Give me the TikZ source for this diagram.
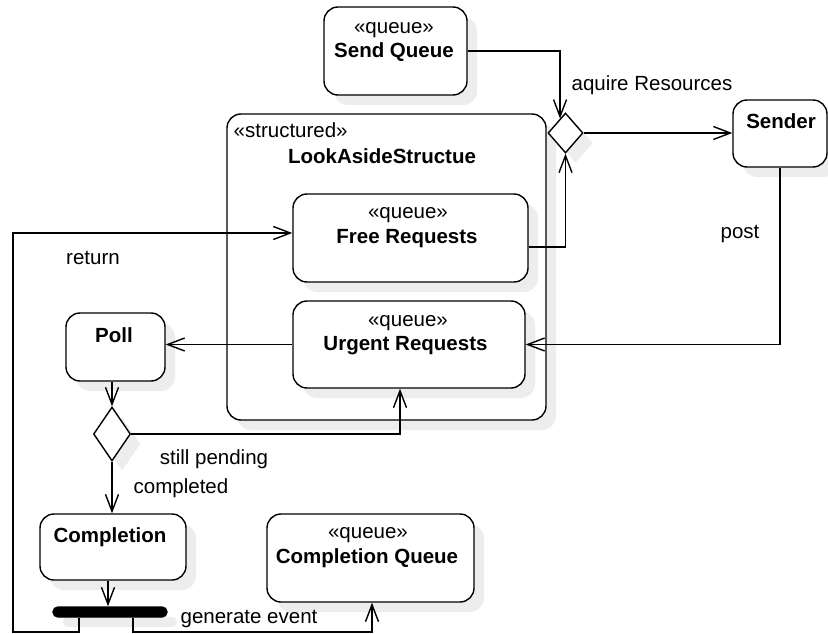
\documentclass[tikz,border=0pt]{standalone}
\usepackage{fontspec}
\setmainfont{Liberation Sans}
\usetikzlibrary{arrows.meta,shapes.geometric,shadows,calc}
\begin{document}
\begin{tikzpicture}[x=1pt,y=-1pt,line width=1.4pt,
  font=\fontsize{20.5}{24}\selectfont,
  shade/.style={drop shadow={shadow xshift=10pt,shadow yshift=-10pt,fill=black!7,opacity=1}},
  act/.style={draw,fill=white,rounded corners=14pt,inner sep=0pt,shade},
  decision/.style={draw,fill=white,diamond,inner sep=0pt,shade},
  lbl/.style={inner sep=0pt,text height=15pt,text depth=4pt},
  arr/.style={-{Straight Barb[length=17pt,width=13pt]}}]
\useasboundingbox (0,0) rectangle (828,634);

% structured region and its queues
\node[act,minimum width=319pt,minimum height=306pt] (look) at (386.5,267) {};
\node[lbl,anchor=west] (lookst) at (233,132) {«structured»};
\node[lbl] (lookname) at (382,158) {\textbf{LookAsideStructue}};

\node[act,minimum width=235pt,minimum height=88pt] (free) at (410.5,238) {};
\node[lbl] (freest) at (408,213) {«queue»};
\node[lbl] (freename) at (407,238) {\textbf{Free Requests}};

\node[act,minimum width=232pt,minimum height=87pt] (urgent) at (409,344.5) {};
\node[lbl] (urgst) at (408,321) {«queue»};
\node[lbl] (urgname) at (405.5,345) {\textbf{Urgent Requests}};

% other activities
\node[act,minimum width=143pt,minimum height=88pt] (sq) at (395.5,51) {};
\node[lbl] (sqst) at (394,28) {«queue»};
\node[lbl] (sqname) at (394,52) {\textbf{Send Queue}};

\node[act,minimum width=94pt,minimum height=67pt] (sender) at (780,133.5) {};
\node[lbl] (sendername) at (781,123) {\textbf{Sender}};

\node[act,minimum width=99pt,minimum height=68pt] (poll) at (115.5,347) {};
\node[lbl] (pollname) at (114,337) {\textbf{Poll}};

\node[act,minimum width=146pt,minimum height=66pt] (comp) at (113,547) {};
\node[lbl] (compname) at (110,537) {\textbf{Completion}};

\node[act,minimum width=207pt,minimum height=88pt] (cq) at (370.5,558) {};
\node[lbl] (cqst) at (368,533) {«queue»};
\node[lbl] (cqname) at (367,558) {\textbf{Completion Queue}};

% control nodes
\node[decision,minimum width=35pt,minimum height=40pt] (merge) at (565.5,133) {};
\node[decision,minimum width=37pt,minimum height=54pt] (dec) at (112,434) {};
\node[draw,fill=black,rounded corners=5pt,minimum width=114pt,minimum height=10pt,inner sep=0pt,shade] (bar) at (110,612) {};

% flows
\draw[arr] (sq.east) -| ($(merge.north)!0.3!(merge.west)$);
\draw[arr] ($(free.east)+(0,9)$) -| (merge.south);
\draw[arr] (merge.east) -- (merge.east -| sender.west);
\draw[arr] (sender.south) |- (urgent.east);
\draw[arr] (urgent.west) -- (urgent.west -| poll.east);
\draw[arr] (dec.north |- poll.south) -- (dec.north);
\draw[arr] (dec.east) -| ($(urgent.south)+(-9,0)$);
\draw[arr] (dec.south) -- (dec.south |- comp.north);
\coordinate (cb) at ($(comp.south)+(-5,0)$);
\draw[arr] (cb) -- (cb |- bar.north);
\coordinate (ret) at (13,632);
\draw[arr] ($(bar.south)+(-31,0)$) |- (ret) |- ($(free.west)+(0,-5)$);
\coordinate (gev) at (372,632);
\draw[arr] ($(bar.south)+(23,0)$) |- (gev) -- (gev |- cq.south);

% flow labels
\node[lbl] (acq) at (652,85) {aquire Resources};
\node[lbl] (post) at (740,233) {post};
\node[lbl] (retl) at (93,259) {return};
\node[lbl] (pend) at (214,459) {still pending};
\node[lbl] (done) at (181,488) {completed};
\node[lbl] (gen) at (249,618) {generate event};
\end{tikzpicture}
\end{document}
